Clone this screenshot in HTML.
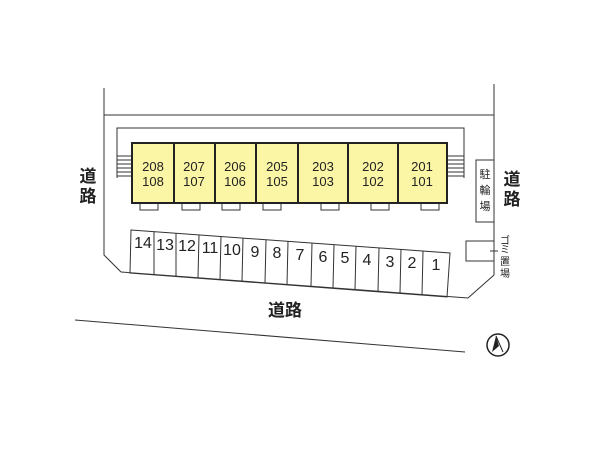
<!DOCTYPE html>
<html><head><meta charset="utf-8"><style>
body{margin:0;background:#fff;width:600px;height:450px;overflow:hidden}
svg text{font-family:"Liberation Sans","Noto Sans CJK JP",sans-serif;fill:#222}
</style></head><body>
<svg width="600" height="450" viewBox="0 0 600 450" xmlns="http://www.w3.org/2000/svg">
<g stroke="#333" stroke-width="1" fill="none">
<polyline points="104,88 104,255 121,272"/>
<polyline points="494,84 494,275 468,298"/>
<line x1="104" y1="115" x2="494" y2="115"/>
<line x1="121" y1="272" x2="468" y2="298"/>
<polyline points="117,178 117,128 464,128 464,178"/>
<line x1="75" y1="320" x2="465" y2="352"/>
<g stroke-width="1">
<line x1="117" y1="156" x2="132" y2="156"/><line x1="117" y1="160" x2="132" y2="160"/><line x1="117" y1="164" x2="132" y2="164"/><line x1="117" y1="168" x2="132" y2="168"/><line x1="117" y1="172" x2="132" y2="172"/><line x1="117" y1="176" x2="132" y2="176"/>
<line x1="447" y1="156" x2="464" y2="156"/><line x1="447" y1="160" x2="464" y2="160"/><line x1="447" y1="164" x2="464" y2="164"/><line x1="447" y1="168" x2="464" y2="168"/><line x1="447" y1="172" x2="464" y2="172"/><line x1="447" y1="176" x2="464" y2="176"/>
</g>
<rect x="140" y="203" width="18" height="7"/><rect x="182" y="203" width="18" height="7"/><rect x="222" y="203" width="18" height="7"/><rect x="263" y="203" width="18" height="7"/><rect x="321" y="203" width="18" height="7"/><rect x="371" y="203" width="18" height="7"/><rect x="421" y="203" width="18" height="7"/>
<rect x="476" y="160" width="18" height="62"/>
<rect x="466" y="241" width="28" height="20"/>
<line x1="490" y1="251" x2="498" y2="251"/>
<polygon points="131,230 450,253 447,297 130,273"/>
</g>
<g stroke="#333" stroke-width="1">
<line x1="154" y1="232" x2="154" y2="275"/><line x1="176" y1="233" x2="176" y2="276"/><line x1="199" y1="235" x2="198" y2="278"/><line x1="221" y1="236" x2="220" y2="280"/><line x1="243" y1="238" x2="242" y2="281"/><line x1="266" y1="240" x2="265" y2="283"/><line x1="288" y1="241" x2="287" y2="285"/><line x1="312" y1="243" x2="311" y2="286"/><line x1="334" y1="245" x2="333" y2="288"/><line x1="356" y1="246" x2="355" y2="290"/><line x1="379" y1="248" x2="378" y2="291"/><line x1="401" y1="249" x2="400" y2="293"/><line x1="423" y1="251" x2="422" y2="295"/>
</g>
<g fill="#fbf6a6" stroke="#222" stroke-width="2">
<rect x="132" y="143" width="315" height="60"/>
</g>
<g stroke="#222" stroke-width="2">
<line x1="174" y1="143" x2="174" y2="203"/><line x1="215" y1="143" x2="215" y2="203"/><line x1="256" y1="143" x2="256" y2="203"/><line x1="298" y1="143" x2="298" y2="203"/><line x1="348" y1="143" x2="348" y2="203"/><line x1="398" y1="143" x2="398" y2="203"/>
</g>
<g font-size="13" text-anchor="middle">
<text x="153" y="171">208</text><text x="153" y="186">108</text>
<text x="194" y="171">207</text><text x="194" y="186">107</text>
<text x="235" y="171">206</text><text x="235" y="186">106</text>
<text x="277" y="171">205</text><text x="277" y="186">105</text>
<text x="323" y="171">203</text><text x="323" y="186">103</text>
<text x="373" y="171">202</text><text x="373" y="186">102</text>
<text x="422" y="171">201</text><text x="422" y="186">101</text>
</g>
<g font-size="16" text-anchor="middle">
<text x="143" y="248">14</text><text x="165" y="250">13</text><text x="187" y="251">12</text><text x="210" y="253">11</text><text x="232" y="255">10</text><text x="255" y="257">9</text><text x="277" y="258">8</text><text x="300" y="260">7</text><text x="323" y="262">6</text><text x="345" y="263">5</text><text x="367" y="265">4</text><text x="390" y="267">3</text><text x="412" y="268">2</text><text x="436" y="270">1</text>
</g>
<g font-size="17" text-anchor="middle" font-weight="bold">
<text x="88" y="182">道</text><text x="88" y="202">路</text>
<text x="512" y="185">道</text><text x="512" y="205">路</text>
<text x="285" y="316">道路</text>
</g>
<g font-size="11" text-anchor="middle">
<text x="485" y="178">駐</text><text x="485" y="194">輪</text><text x="485" y="210">場</text>
</g>
<g font-size="10" text-anchor="middle">
<text x="505" y="244">ゴ</text><text x="505" y="253">ミ</text><text x="505" y="265">置</text><text x="505" y="277">場</text>
</g>
<circle cx="498" cy="345" r="11" fill="none" stroke="#222" stroke-width="1.5"/>
<polygon points="496,336 492,352 499,346" fill="#222"/>
<polyline points="496,336 503,352" fill="none" stroke="#222" stroke-width="1"/>
</svg>
</body></html>
